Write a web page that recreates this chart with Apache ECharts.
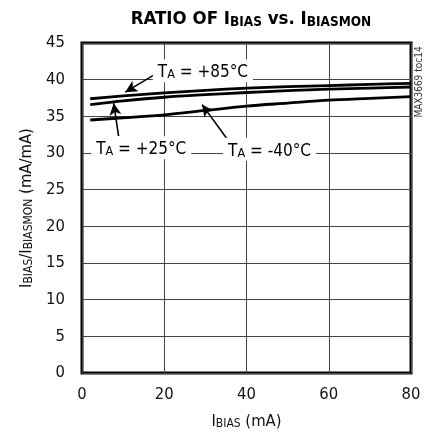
<!DOCTYPE html>
<html>
<head>
<meta charset="utf-8">
<script src="https://cdn.jsdelivr.net/npm/echarts@6/dist/echarts.min.js"></script>
<style>
html,body{margin:0;padding:0;background:#fff;}
#c{width:425px;height:437px;}
</style>
</head>
<body>
<div id="c"></div>
<script>
// ---- data ----
const xValues = [2, 10, 20, 30, 40, 50, 60, 70, 80];
const ratio85 = [37.4, 37.8, 38.2, 38.55, 38.85, 39.05, 39.2, 39.35, 39.5];
const ratio25 = [36.6, 37.1, 37.6, 37.95, 38.25, 38.5, 38.7, 38.85, 39.0];
const ratioM40 = [34.5, 34.8, 35.2, 35.8, 36.4, 36.8, 37.2, 37.45, 37.7];
const xTicks = [0, 20, 40, 60, 80];
const yTicks = [0, 5, 10, 15, 20, 25, 30, 35, 40, 45];
const annoTemps = ['+85°C', '+25°C', '-40°C'];
const annoLabelPos = [[29.4, 41.2], [14.4, 30.7], [45.6, 30.5]];
const annoArrows = [[[19.8, 41.4], [10.5, 38.3]], [[8.9, 32.3], [7.7, 36.8]], [[36.5, 31.0], [29.2, 36.6]]];

// pick an installed condensed font
const candidates = ["'Liberation Sans Narrow'", "'DejaVu Sans Condensed'", "'Roboto Condensed'", "'Noto Sans Condensed'", "'Open Sans Condensed'", "'Arial Narrow'"];
const cv = document.createElement('canvas').getContext('2d');
function has(f) {
  const s = 'RATIO OF 0123456789 mA';
  cv.font = '20px ' + f + ', monospace'; const a = cv.measureText(s).width;
  cv.font = '20px ' + f + ', serif'; const b = cv.measureText(s).width;
  return Math.abs(a - b) < 0.01;
}
let FONT = "'Liberation Sans', sans-serif";
for (const c of candidates) { if (has(c)) { FONT = c + ", sans-serif"; break; } }

const chart = echarts.init(document.getElementById('c'), null, {renderer: 'canvas'});

function curve(name, vals) {
  return {
    name: name, type: 'line', data: xValues.map((x, i) => [x, vals[i]]),
    showSymbol: false, smooth: 0.3,
    lineStyle: {color: '#000', width: 2.8}, z: 5
  };
}

const labelSeries = {
  type: 'scatter', symbolSize: 0, z: 20,
  itemStyle: {opacity: 1},
  data: annoLabelPos.map((p, i) => ({value: p, temp: annoTemps[i]})),
  label: {
    show: true, position: 'inside', opacity: 1,
    formatter: p => '{m|T}{s|A}{m| = ' + p.data.temp + '}',
    backgroundColor: '#fff', padding: [2, 5, 1, 5],
    rich: {
      m: {fontFamily: FONT, fontSize: 17, color: '#000', lineHeight: 20, verticalAlign: 'bottom'},
      s: {fontFamily: FONT, fontSize: 12.5, color: '#000', lineHeight: 15, verticalAlign: 'bottom'}
    }
  },
  silent: true
};

const arrowSeries = {
  type: 'line', data: [], z: 10,
  markLine: {
    silent: true, symbol: ['none', 'arrow'], symbolSize: [9, 12],
    lineStyle: {color: '#000', width: 1.6, type: 'solid'},
    label: {show: false},
    data: annoArrows.map(a => [{coord: a[0]}, {coord: a[1]}])
  }
};

chart.setOption({
  animation: false,
  backgroundColor: '#fff',
  title: {
    text: '{m|RATIO OF I}{s|BIAS}{m| vs. I}{s|BIASMON}',
    left: 246, textAlign: 'center', top: 2,
    textStyle: {
      rich: {
        m: {fontFamily: FONT, fontWeight: 'bold', fontSize: 18.5, color: '#000', lineHeight: 22, verticalAlign: 'bottom'},
        s: {fontFamily: FONT, fontWeight: 'bold', fontSize: 13.5, color: '#000', lineHeight: 17, verticalAlign: 'bottom'}
      }
    }
  },
  grid: {left: 82, right: 14, top: 43, bottom: 64, containLabel: false, outerBoundsMode: 'none',
    show: true, borderColor: '#000', borderWidth: 3, backgroundColor: 'transparent'},
  xAxis: {
    type: 'value', min: xTicks[0], max: xTicks[xTicks.length - 1], interval: 20,
    axisLine: {show: false}, axisTick: {show: false},
    splitLine: {show: true, lineStyle: {color: '#444', width: 1}},
    axisLabel: {fontFamily: FONT, fontSize: 16.5, color: '#111', margin: 13},
    name: '{m|I}{s|BIAS}{m| (mA)}', nameLocation: 'middle', nameGap: 37,
    nameTextStyle: {rich: {
      m: {fontFamily: FONT, fontSize: 16.5, color: '#111', lineHeight: 20, verticalAlign: 'bottom'},
      s: {fontFamily: FONT, fontSize: 12, color: '#111', lineHeight: 14, verticalAlign: 'bottom'}
    }}
  },
  yAxis: {
    type: 'value', min: yTicks[0], max: yTicks[yTicks.length - 1], interval: 5,
    axisLine: {show: false}, axisTick: {show: false},
    splitLine: {show: true, lineStyle: {color: '#444', width: 1}},
    axisLabel: {fontFamily: FONT, fontSize: 16.5, color: '#111', margin: 17},
    name: '{m|I}{s|BIAS}{m|/I}{s|BIASMON}{m| (mA/mA)}', nameLocation: 'middle', nameGap: 46, nameRotate: 90,
    nameTextStyle: {rich: {
      m: {fontFamily: FONT, fontSize: 16.5, color: '#111', lineHeight: 20, verticalAlign: 'bottom'},
      s: {fontFamily: FONT, fontSize: 12, color: '#111', lineHeight: 14, verticalAlign: 'bottom'}
    }}
  },
  graphic: [{
    type: 'text', x: 419, y: 82, rotation: Math.PI / 2,
    style: {text: 'MAX3669 toc14', fontFamily: FONT, fontSize: 10, fill: '#333', align: 'center', verticalAlign: 'middle'}
  }],
  series: [
    curve('TA = +85°C', ratio85),
    curve('TA = +25°C', ratio25),
    curve('TA = -40°C', ratioM40),
    arrowSeries,
    labelSeries
  ]
});
</script>
</body>
</html>
